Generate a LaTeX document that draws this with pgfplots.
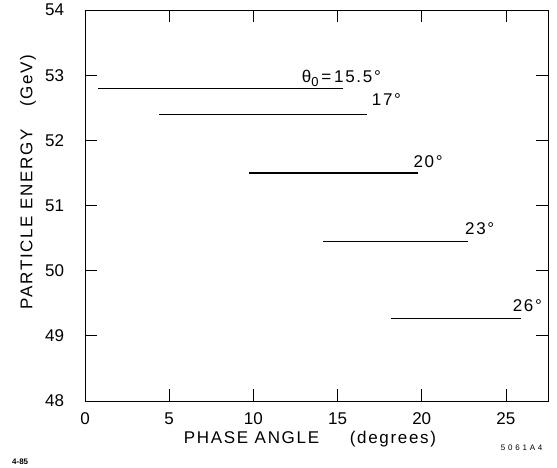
\documentclass[border=0pt]{standalone}
\usepackage{fontspec}
\setmainfont{Liberation Sans}
\newfontfamily\lsfont[LetterSpace=10]{Liberation Sans}
\newfontfamily\wsfont[LetterSpace=35]{Liberation Sans}
\usepackage{pgfplots}
\pgfplotsset{compat=1.18}
\begin{document}
\fontsize{17}{20}\selectfont
\begin{tikzpicture}
\useasboundingbox (-85pt,-66pt) rectangle (472pt,401pt);
\begin{axis}[
  scale only axis, width=463pt, height=391pt,
  at={(0,0)}, anchor=south west,
  xmin=0, xmax=27.5, ymin=48, ymax=54,
  xtick={0,5,...,25}, ytick={48,...,54},
  tick align=inside, major tick length=12pt,
  xtick pos=both, ytick pos=both,
  /pgf/number format/assume math mode=true,
  tick label style={font=\fontsize{17}{20}\selectfont},
  yticklabel style={xshift=-15pt},
  xticklabel style={yshift=-6pt},
  axis line style={line width=0.8pt},
  every tick/.style={black, line width=0.8pt},
  clip=false,
]
\addplot[black, line width=1.4pt] coordinates {(0.79,52.8) (15.3,52.8)};
\addplot[black, line width=1.4pt] coordinates {(4.41,52.4) (16.77,52.4)};
\addplot[black, line width=1.4pt] coordinates {(9.76,51.5) (19.76,51.5)};
\addplot[black, line width=1.4pt] coordinates {(14.15,50.45) (22.76,50.45)};
\addplot[black, line width=1.4pt] coordinates {(18.17,49.27) (25.89,49.27)};
\node[anchor=west, inner sep=0, font=\lsfont] at (axis cs:12.87,52.95) {θ\raisebox{-0.35ex}{\fontsize{13}{14}\selectfont 0}\,=\,15.5°};
\node[anchor=west, inner sep=0, font=\lsfont] at (axis cs:17.03,52.62) {17°};
\node[anchor=west, inner sep=0, font=\lsfont] at (axis cs:19.5,51.67) {20°};
\node[anchor=west, inner sep=0, font=\lsfont] at (axis cs:22.57,50.65) {23°};
\node[anchor=west, inner sep=0, font=\lsfont] at (axis cs:25.4,49.46) {26°};
\node[rotate=90, anchor=center, font=\lsfont] at (axis description cs:-0.123,0.56) {PARTICLE ENERGY\hspace{1.3em}(GeV)};
\node[anchor=center, font=\lsfont] at (axis description cs:0.486,-0.097) {PHASE ANGLE\hspace{1.8em}(degrees)};
\node[anchor=center, font=\fontsize{8}{9}\selectfont\bfseries] at (axis description cs:-0.140,-0.156) {4-85};
\node[anchor=center, font=\wsfont\fontsize{8}{9}\selectfont] at (axis description cs:0.943,-0.120) {5061A4};
\end{axis}
\end{tikzpicture}
\end{document}
